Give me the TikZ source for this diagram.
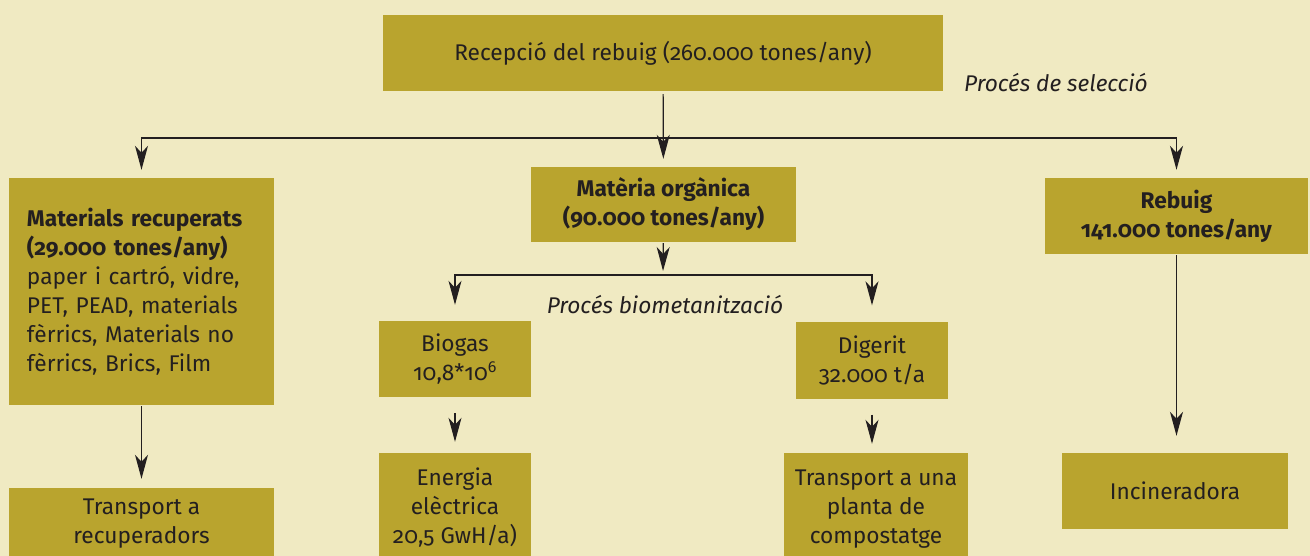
\documentclass[tikz,border=0pt]{standalone}
\usepackage{fontspec}
\setmainfont{Fira Sans}[Numbers=OldStyle]
\usetikzlibrary{arrows.meta}
\definecolor{paper}{RGB}{240,234,194}
\definecolor{olive}{RGB}{185,164,46}
\definecolor{ink}{RGB}{35,31,32}
\tikzstyle{box}=[rectangle, fill=olive, text=ink, align=center, inner sep=0pt, font=\fontsize{22.7}{29}\selectfont]
\tikzstyle{conn}=[-{Stealth[length=24pt,width=13pt,inset=7pt]}, line width=1.2pt, color=ink]
\tikzstyle{process}=[text=ink, font=\fontsize{22.7}{29}\selectfont\itshape]
\tikzset{y=-1pt}
\tikzset{x=1pt}

\begin{document}
\begin{tikzpicture}
  \clip (0,0) rectangle (1310,556);
  \fill[paper] (0,0) rectangle (1310,556);

  \draw (663,53) node[box,minimum width=560pt,minimum height=76pt] (rec) {Recepció del rebuig (260.000 tones/any)};
  \draw (1056,83) node[process] (psel) {Procés de selecció};

  \draw (141.5,291.5) node[box,align=left,minimum width=265pt,minimum height=227pt,text width=229pt] (mrec) {\textbf{Materials recuperats}\\\textbf{(29.000 tones/any)}\\paper i cartró, vidre,\\PET, PEAD, materials\\fèrrics, Materials no\\fèrrics, Brics, Film};
  \draw (663.5,204.5) node[box,minimum width=265pt,minimum height=75pt] (mat) {\textbf{Matèria orgànica}\\\textbf{(90.000 tones/any)}};
  \draw (1176.5,216) node[box,minimum width=263pt,minimum height=76pt] (reb) {\textbf{Rebuig}\\\textbf{141.000 tones/any}};

  \draw (665,305) node[process] (pbio) {Procés biometanització};
  \draw (455,359) node[box,minimum width=152pt,minimum height=76pt] (bio) {Biogas\\10,8*10\textsuperscript{6}};
  \draw (872,360) node[box,minimum width=152pt,minimum height=77pt] (dig) {Digerit\\32.000 t/a};

  \draw (141.5,524) node[box,minimum width=265pt,minimum height=72pt] (trec) {Transport a\\recuperadors};
  \draw (455,508) node[box,minimum width=152pt,minimum height=110pt] (ener) {Energia\\elèctrica\\20,5 GwH/a)};
  \draw (876,509) node[box,minimum width=184pt,minimum height=112pt] (tuna) {Transport a una\\planta de\\compostatge};
  \draw (1175,491) node[box,minimum width=226pt,minimum height=76pt] (inc) {Incineradora};

  %% Selection split
  \coordinate (split) at (663,138);
  \draw[conn,shorten <=3pt,shorten >=8pt] (rec) -- (mat);
  \draw[conn,shorten >=8pt] (split) -| (mrec.north);
  \draw[conn,shorten >=8pt] (split) -| (reb.north);

  %% Biomethanisation split
  \coordinate (split2) at (663,275);
  \draw[conn,shorten <=1pt,shorten >=4pt] (mat) -- (split2);
  \draw[conn,shorten >=16pt] (split2) -| (bio.north);
  \draw[conn,shorten >=16pt] (split2) -| (dig.north);

  \draw[conn,shorten <=1pt,shorten >=9pt] (mrec) -- (mrec |- trec.north);
  \draw[conn,shorten <=16pt,shorten >=11pt] (bio) -- (bio |- ener.north);
  \draw[conn,shorten <=16pt,shorten >=9pt] (dig) -- (dig |- tuna.north);
  \draw[conn,shorten <=1pt,shorten >=17pt] (reb) -- (reb |- inc.north);
\end{tikzpicture}
\end{document}
